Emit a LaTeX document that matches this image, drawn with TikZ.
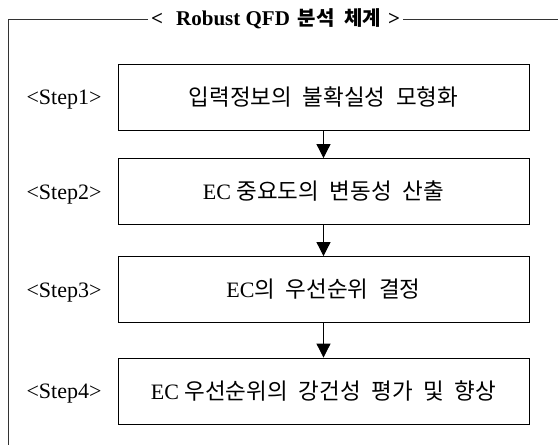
\documentclass[tikz,border=0pt]{standalone}
\usepackage{fontspec}
\setmainfont{Liberation Serif}
\newfontfamily\korfont[WordSpace=2.1]{Noto Sans CJK KR}
\newcommand\kor{\korfont\fontsize{22.5}{24}\selectfont}
\usetikzlibrary{arrows.meta}
\tikzset{
  stepbox/.style={draw, line width=0.8pt, minimum width=411pt, minimum height=66pt, inner sep=0pt, font=\fontsize{22}{24}\selectfont},
  steplabel/.style={inner sep=0pt, font=\fontsize{22}{24}\selectfont},
  flow/.style={line width=0.8pt, -{Triangle[width=14pt,length=14pt]}}
}
\begin{document}
\begin{tikzpicture}[x=1pt,y=-1pt]
    \useasboundingbox (0,0) rectangle (558,445);
    % frame with title
    \node[inner sep=0pt, anchor=west, font=\fontsize{21}{24}\selectfont\bfseries] (title) at (151,19)
      {<\hspace{13pt}Robust QFD\hspace{8pt}{\korfont\fontsize{20}{24}\selectfont 분석 체계}\hspace{7pt}>};
    \coordinate (corner) at (8,19);
    \coordinate (foot) at (8,445);
    \coordinate (edge) at (558,19);
    \draw[line width=0.8pt, black!80] ([xshift=-3pt]title.west) -- (corner) -- (foot);
    \draw[line width=0.8pt, black!80] ([xshift=3pt]title.east) -- (edge);
    % steps
    \node[stepbox] (s1) at (323.5,97) {\kor 입력정보의 불확실성 모형화};
    \node[stepbox] (s2) at (323.5,191.5) {EC {\kor 중요도의 변동성 산출}};
    \node[stepbox] (s3) at (323.5,289.5) {EC{\kor 의 우선순위 결정}};
    \node[stepbox] (s4) at (323.5,391) {EC {\kor 우선순위의 강건성 평가 및 향상}};
    \node[steplabel] (l1) at (64,100) {<Step1>};
    \node[steplabel] (l2) at (64,194.5) {<Step2>};
    \node[steplabel] (l3) at (64,292.5) {<Step3>};
    \node[steplabel] (l4) at (64,394) {<Step4>};
    \draw[flow] (s1) -- (s2);
    \draw[flow] (s2) -- (s3);
    \draw[flow] (s3) -- (s4);
\end{tikzpicture}
\end{document}
